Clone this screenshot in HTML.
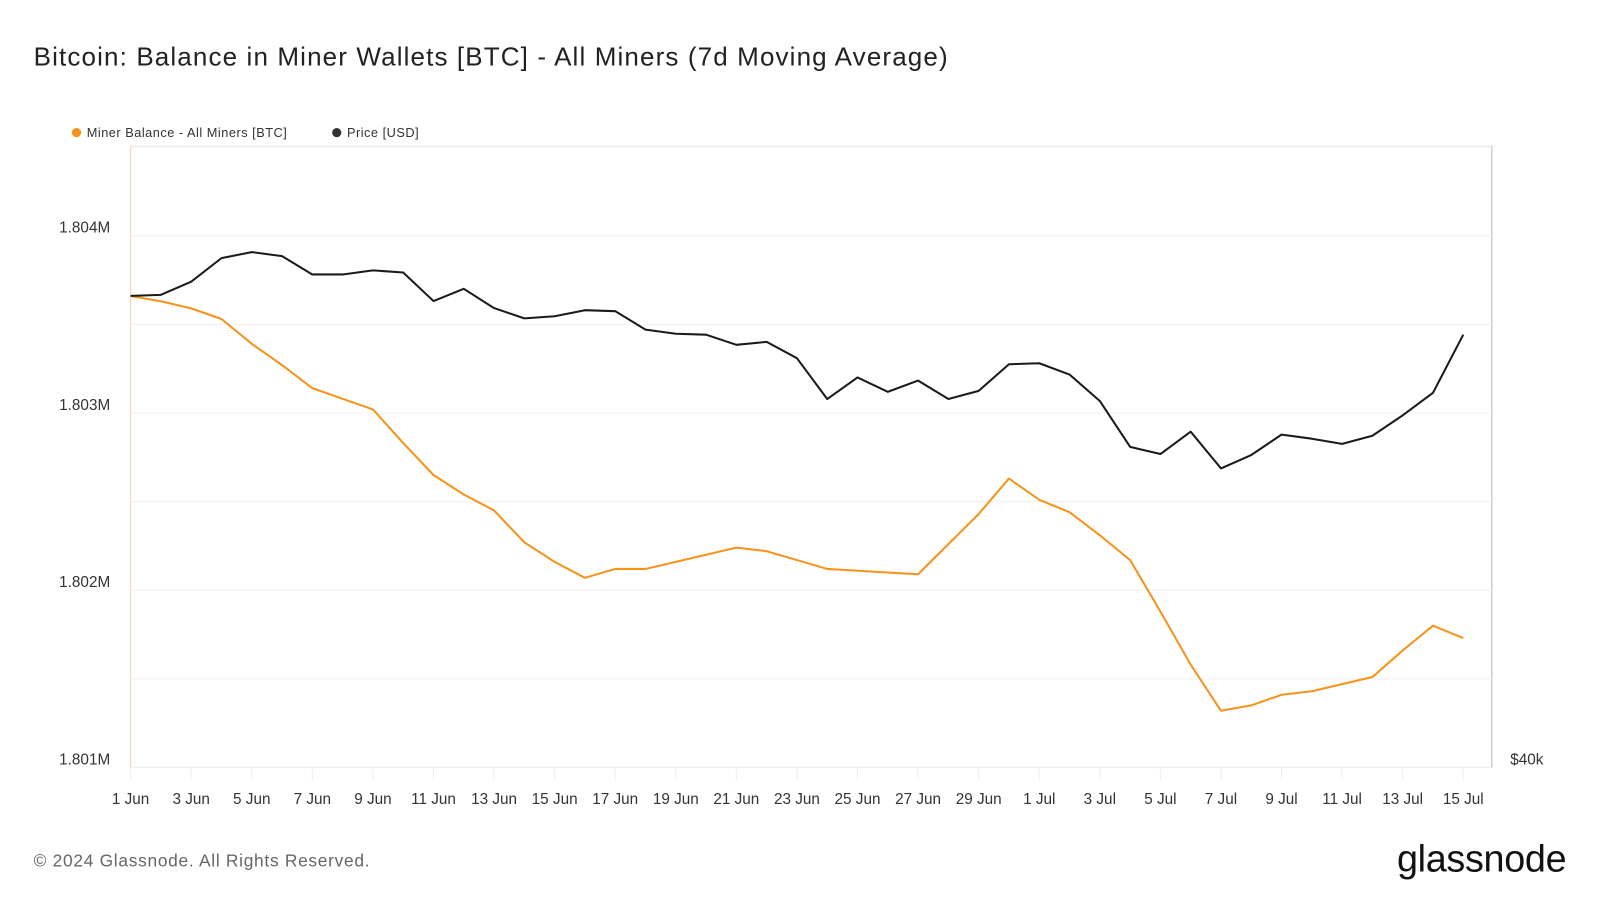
<!DOCTYPE html>
<html><head><meta charset="utf-8"><style>
html,body{margin:0;padding:0;background:#fff;}
svg{display:block;font-family:"Liberation Sans",sans-serif;}
</style></head><body>
<svg id="chart" width="1600" height="900" viewBox="0 0 1568 882" xmlns="http://www.w3.org/2000/svg">
<text x="33" y="64" font-size="25.5" fill="#222" letter-spacing="1.1">Bitcoin: Balance in Miner Wallets [BTC] - All Miners (7d Moving Average)</text>
<g>
<g><circle cx="75" cy="130" r="4.5" fill="#f7931a"/><text x="85" y="134.5" font-size="12.5" fill="#333" letter-spacing="0.5">Miner Balance - All Miners [BTC]</text></g>
<g><circle cx="330" cy="130" r="4.5" fill="#333"/><text x="340" y="134.5" font-size="12.5" fill="#333" letter-spacing="0.5">Price [USD]</text></g>
</g>
<rect x="128" y="143" width="1334" height="609" fill="none" stroke="#eee"/>
<line x1="1462" y1="143" x2="1462" y2="752" stroke="#bbb"/>
<line x1="128" y1="143" x2="128" y2="752" stroke="#fbd3a3"/>
<g id="grid"></g>
<g id="yaxis"></g>
<g id="xaxis"></g>
<text x="1480" y="749" font-size="15" fill="#333">$40k</text>
<g id="series"></g>
<text x="33" y="849" font-size="17" fill="#666" letter-spacing="0.7">© 2024 Glassnode. All Rights Reserved.</text>
<text x="1535" y="854" font-size="37" fill="#111" text-anchor="end" letter-spacing="-0.3">glassnode</text>
</svg>
<script>
const xLabels = ["1 Jun","3 Jun","5 Jun","7 Jun","9 Jun","11 Jun","13 Jun","15 Jun","17 Jun","19 Jun","21 Jun","23 Jun","25 Jun","27 Jun","29 Jun","1 Jul","3 Jul","5 Jul","7 Jul","9 Jul","11 Jul","13 Jul","15 Jul"];
const yTicks = [1.801,1.802,1.803,1.804];
const yTickLabels = ["1.801M","1.802M","1.803M","1.804M"];
const minerBalance = [1.80366,1.80363,1.80359,1.80353,1.80339,1.80327,1.80314,1.80308,1.80302,1.80283,1.80265,1.80254,1.80245,1.80227,1.80216,1.80207,1.80212,1.80212,1.80216,1.80220,1.80224,1.80222,1.80217,1.80212,1.80211,1.80210,1.80209,1.80226,1.80243,1.80263,1.80251,1.80244,1.80231,1.80217,1.80188,1.80158,1.80132,1.80135,1.80141,1.80143,1.80147,1.80151,1.80166,1.80180,1.80173];
const price = [68.88,68.94,69.75,71.19,71.56,71.31,70.19,70.19,70.44,70.31,68.56,69.31,68.13,67.5,67.63,68.0,67.94,66.81,66.56,66.5,65.88,66.06,65.06,62.56,63.88,63.0,63.69,62.56,63.06,64.69,64.75,64.06,62.44,59.63,59.19,60.56,58.31,59.13,60.38,60.13,59.81,60.31,61.56,62.94,66.5];
const NS="http://www.w3.org/2000/svg";
const x0=128, dx=(1434-128)/44;
const xs=i=>x0+i*dx;
const yL=v=>231+(1.804-v)/0.001*173.7;
const yR=p=>752-(p-40)*16;
function mk(t,a,parent){const e=document.createElementNS(NS,t);for(const k in a)e.setAttribute(k,a[k]);parent.appendChild(e);return e;}
const grid=document.getElementById('grid'),ya=document.getElementById('yaxis'),xa=document.getElementById('xaxis'),ser=document.getElementById('series');
for(let v=1.8015;v<1.8045;v+=0.0005){const y=yL(v);const l=mk('line',{x1:128,x2:1462,y1:y,y2:y,stroke:'#f0f0f0'},grid);

}
yTicks.forEach((v,i)=>{const t=mk('text',{x:108,y:yL(v)-3,'font-size':15,fill:'#333','text-anchor':'end'},ya);t.textContent=yTickLabels[i];

});
xLabels.forEach((s,i)=>{const x=xs(i*2);const tk=mk('line',{x1:x,x2:x,y1:752,y2:764,stroke:'#eee'},xa);


const t=mk('text',{x:x,y:788,'font-size':15,fill:'#333','text-anchor':'middle'},xa);t.textContent=s;

});
const pb=mk('polyline',{points:minerBalance.map((v,i)=>xs(i)+','+yL(v)).join(' '),fill:'none',stroke:'#f7931a','stroke-width':2,'stroke-linejoin':'round'},ser);


const pp=mk('polyline',{points:price.map((v,i)=>xs(i)+','+yR(v)).join(' '),fill:'none',stroke:'#1a1a1a','stroke-width':2,'stroke-linejoin':'round'},ser);


</script>
</body></html>
